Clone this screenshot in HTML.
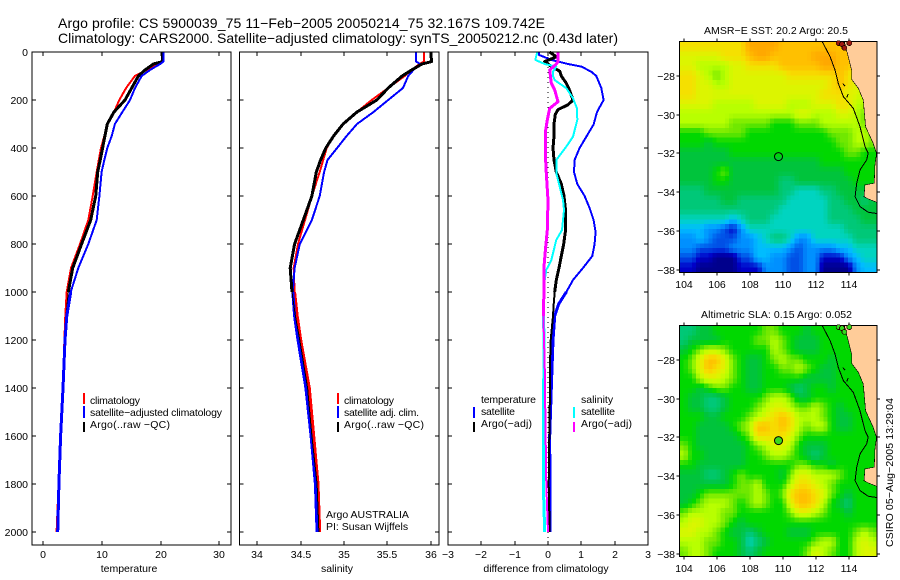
<!DOCTYPE html>
<html lang="en">
<head>
<meta charset="utf-8">
<title>Argo profile chart</title>
<style>
html,body{margin:0;padding:0;background:#fff;width:900px;height:580px;overflow:hidden}
svg{display:block}
text{font-family:"Liberation Sans",sans-serif;font-size:10.5px;fill:#000}
.t{font-size:14px}
</style>
</head>
<body>
<svg id="chart" xmlns="http://www.w3.org/2000/svg" width="900" height="580" viewBox="0 0 900 580" shape-rendering="crispEdges">
<rect x="0" y="0" width="900" height="580" fill="#fff"/>
<text class="t" x="58" y="28" textLength="487">Argo profile: CS 5900039_75 11−Feb−2005 20050214_75 32.167S 109.742E</text>
<text class="t" x="58" y="43" textLength="560">Climatology: CARS2000. Satellite−adjusted climatology: synTS_20050212.nc (0.43d later)</text>

<g id="p1"></g>
<g id="p2"></g>
<g id="p3"></g>
<g id="m1"></g>
<g id="m2"></g>

<text x="129" y="572" text-anchor="middle">temperature</text>
<text x="337" y="572" text-anchor="middle">salinity</text>
<text x="546" y="572" text-anchor="middle">difference from climatology</text>

<g>
<rect x="83" y="393" width="2" height="11" fill="#f00"/>
<rect x="83" y="406" width="2" height="12" fill="#00f"/>
<rect x="83" y="422" width="2" height="10" fill="#000"/>
<text x="90" y="404" textLength="50">climatology</text>
<text x="90" y="416" textLength="132">satellite−adjusted climatology</text>
<text x="90" y="428" textLength="80">Argo(..raw −QC)</text>
</g>
<g>
<rect x="337" y="393" width="2" height="11" fill="#f00"/>
<rect x="337" y="406" width="2" height="12" fill="#00f"/>
<rect x="337" y="422" width="2" height="10" fill="#000"/>
<text x="344" y="404" textLength="50">climatology</text>
<text x="344" y="416" textLength="75">satellite adj. clim.</text>
<text x="344" y="428" textLength="80">Argo(..raw −QC)</text>
<text x="326" y="518">Argo AUSTRALIA</text>
<text x="326" y="530">PI: Susan Wijffels</text>
</g>
<g>
<rect x="473" y="407" width="2" height="11" fill="#00f"/>
<rect x="473" y="422" width="2" height="10" fill="#000"/>
<rect x="573" y="407" width="2" height="11" fill="#0ff"/>
<rect x="573" y="422" width="2" height="10" fill="#f0f"/>
<text x="481" y="403" textLength="55">temperature</text>
<text x="481" y="415" textLength="34">satellite</text>
<text x="481" y="427" textLength="51">Argo(−adj)</text>
<text x="581" y="403">salinity</text>
<text x="581" y="415" textLength="34">satellite</text>
<text x="581" y="427" textLength="51">Argo(−adj)</text>
</g>

<text x="704" y="34" textLength="144">AMSR−E SST: 20.2 Argo: 20.5</text>
<text x="701" y="318" textLength="151">Altimetric SLA: 0.15 Argo: 0.052</text>
<text transform="translate(893,547) rotate(-90)" textLength="149">CSIRO 05−Aug−2005 13:29:04</text>
</svg>

<script>
// ---------- profile data ----------
const depths = [0,40,50,75,100,150,200,250,300,350,400,450,500,600,700,800,900,1000,1100,1200,1400,1600,1800,2000];
const tempClim = [20.2,20.2,19.3,17.6,15.6,14.1,12.95,12.05,10.9,10.4,9.83,9.45,9.09,8.41,7.67,6.25,4.72,3.98,3.75,3.6,3.3,2.9,2.6,2.27];
const tempSat  = [20.45,20.45,19.9,18.18,16.76,15.63,14.77,13.47,12.2,11.65,10.9,10.4,9.94,9.55,9.09,7.67,5.97,4.66,4.0,3.7,3.35,2.95,2.65,2.45];
const tempArgo = [20.34,20.34,18.75,17.33,16.2,15.06,13.92,12.05,10.9,10.5,10.11,9.7,9.26,8.92,8.07,6.53,5.0,4.26,3.85,3.6,3.25,2.85,2.5,2.4];
const salClim = [35.92,35.92,35.87,35.78,35.7,35.51,35.32,35.15,34.99,34.88,34.8,34.76,34.72,34.63,34.55,34.47,34.42,34.43,34.46,34.5,34.6,34.65,34.7,34.72];
const salSat  = [35.83,35.83,35.88,35.8,35.74,35.68,35.51,35.34,35.15,35.03,34.92,34.81,34.77,34.72,34.63,34.49,34.43,34.41,34.43,34.47,34.56,34.62,34.67,34.69];
const salArgo = [36.0,36.01,35.9,35.78,35.67,35.51,35.38,35.15,34.99,34.88,34.79,34.73,34.68,34.63,34.53,34.43,34.38,34.4,34.44,34.49,34.58,34.63,34.69,34.71];

const diffTempSatDepths = [0,12,33,50,61,82,100,150,200,250,302,400,450,500,550,600,650,700,750,800,850,900,950,1000,1050,1100,1200,1400,1600,2000];
const diffTempSat = [-0.27,-0.27,0.1,0.6,1.0,1.3,1.45,1.6,1.67,1.47,1.37,0.95,0.8,0.78,0.88,1.1,1.25,1.37,1.43,1.4,1.33,1.05,0.75,0.55,0.32,0.2,0.15,0.1,0.05,0.06];
const diffTempArgoDepths = [0,20,40,60,80,100,130,160,200,220,240,260,300,350,400,450,500,550,600,650,700,750,800,850,900,950,1000,1050,1100,1200,1300,1400,1600,1800,2000];
const diffTempArgo = [0.05,0.25,-0.1,0.1,0.35,0.4,0.55,0.65,0.75,0.6,0.3,0.22,0.18,0.18,0.15,0.18,0.25,0.4,0.48,0.52,0.53,0.52,0.47,0.4,0.33,0.25,0.2,0.17,0.15,0.08,0.06,0.06,0.04,0.02,0.05];
const diffSalSatDepths = [0,33,50,61,82,100,117,151,193,235,283,353,394,450,506,561,617,658,742,783,867,908,978,1061,1200,1400,1600,1800,2000];
const diffSalSat = [-0.32,-0.38,-0.1,0.25,0.15,0.15,0.2,0.55,0.75,0.87,0.88,0.75,0.55,0.25,0.25,0.35,0.45,0.48,0.42,0.25,0.1,-0.05,-0.13,-0.14,-0.12,-0.13,-0.13,-0.14,-0.1];
const diffSalArgoDepths = [0,40,50,75,130,158,207,235,283,325,422,506,617,742,811,894,992,1100,1300,1500,1800,2000];
const diffSalArgo = [0.3,0.3,0.25,0.05,0.1,0.2,0.3,0.05,-0.02,-0.07,-0.08,-0.05,0,-0.02,-0.07,-0.12,-0.12,-0.14,-0.1,-0.08,-0.05,0];

const depthTicks = [0,200,400,600,800,1000,1200,1400,1600,1800,2000];
const tempTicks = [0,10,20,30];
const salTicks = [34,34.5,35,35.5,36];
const salTickLabels = ['34','34.5','35','35.5','36'];
const diffTicks = [-3,-2,-1,0,1,2,3];
const diffTickLabels = ['−3','−2','−1','0','1','2','3'];

// ---------- map data ----------
const lonTicks = [104,106,108,110,112,114];
const latTicks = [-28,-30,-32,-34,-36,-38];
const latTickLabels = ['−28','−30','−32','−34','−36','−38'];
const gridLon0 = 103.73;
const gridLat0 = -26.23;
const gridStepLon = 0.5;
const gridStepLat = 0.496;
const paletteRgb = [[0,0,140],[0,0,200],[0,80,230],[0,144,255],[0,188,255],[0,212,192],[0,200,120],[0,196,60],[0,216,0],[112,232,0],[184,255,0],[220,245,0],[245,224,0],[255,192,0],[255,168,0],[224,64,0]];

const sstGrid = [
[12,12,12,12,12,12,12,12,14,14,14,14,13,13,13,13,13,13,13,13,13,13,13,13],
[11,11,11,11,11,12,12,12,13,14,14,13,13,13,13,13,14,14,14,13,13,13,12,12],
[11,11,10,10,10,10,11,11,12,12,12,12,13,13,13,13,13,14,14,13,13,12,12,12],
[12,12,11,10,9,10,11,11,11,11,11,11,11,12,12,12,12,12,12,13,12,11,11,11],
[12,12,11,11,10,10,11,11,11,11,11,11,11,11,11,11,11,11,12,13,12,11,11,11],
[12,12,11,11,11,11,11,11,11,11,11,11,11,11,11,11,11,12,12,12,11,11,10,10],
[11,11,11,11,10,10,10,10,10,11,11,11,11,10,10,10,11,11,11,12,12,10,10,10],
[10,10,10,10,10,10,10,10,10,10,10,10,10,10,11,11,10,10,10,11,11,10,9,9],
[10,10,10,10,10,10,9,9,9,9,9,8,8,8,9,9,9,10,10,10,10,10,9,9],
[8,8,8,9,9,9,9,9,8,8,8,8,8,8,8,8,8,8,9,9,9,10,10,9],
[8,8,8,7,8,8,8,8,8,8,8,8,8,8,8,8,8,8,8,9,9,10,10,9],
[7,7,7,7,7,7,8,8,8,8,8,8,8,8,8,8,8,8,8,8,9,9,8,8],
[7,7,7,7,7,7,7,7,7,7,7,7,7,7,7,7,7,8,8,8,8,8,8,8],
[7,7,7,7,8,9,7,7,7,7,7,7,7,7,7,7,7,7,7,7,8,8,8,8],
[7,7,7,7,8,8,7,7,7,7,7,7,6,6,7,7,7,7,7,7,7,8,8,8],
[6,6,6,7,7,7,7,7,7,7,7,7,6,6,5,5,5,6,6,7,7,7,7,7],
[6,6,6,6,6,7,7,6,6,6,6,6,6,5,5,5,5,5,6,6,7,7,6,7],
[6,6,6,6,6,6,6,6,6,6,6,6,5,5,5,5,5,5,6,6,6,7,7,7],
[5,5,5,5,5,5,4,5,6,6,6,5,5,5,5,5,5,5,6,6,6,6,7,7],
[4,4,4,3,3,2,1,3,5,5,5,5,5,5,5,5,5,5,5,5,6,6,6,6],
[3,3,4,3,2,2,2,3,3,4,5,6,6,5,3,3,5,5,5,5,5,6,6,6],
[3,3,2,2,2,2,3,3,3,4,4,4,4,3,2,3,3,3,3,4,4,5,5,5],
[2,2,1,1,0,0,0,2,2,4,4,3,3,2,2,3,3,1,1,1,3,4,5,5],
[1,1,0,0,0,0,0,1,1,1,3,3,3,2,2,3,3,0,0,0,0,3,4,4]
];
const slaGrid = [
[6,6,7,7,8,8,8,8,8,8,9,9,8,8,8,7,8,8,8,8,8,8,9,9],
[6,7,7,7,7,8,8,8,8,9,9,10,9,8,7,7,7,8,8,8,8,8,8,8],
[7,8,9,10,10,9,8,8,8,8,8,10,9,8,7,7,7,8,8,8,8,8,8,8],
[8,9,11,13,13,11,9,8,7,7,8,9,10,9,9,8,8,8,7,8,8,8,8,8],
[8,9,11,13,12,11,9,8,7,7,8,8,9,9,10,9,8,7,7,8,8,8,8,8],
[8,8,10,11,11,10,9,8,7,7,8,8,8,8,8,7,7,7,7,8,8,8,8,8],
[8,8,7,8,9,9,8,8,7,7,8,8,8,7,6,7,8,8,7,8,8,8,8,8],
[8,7,7,6,6,7,8,8,8,8,9,10,10,9,7,7,8,8,8,8,8,8,8,8],
[8,7,7,6,6,7,8,8,8,9,10,11,11,10,9,9,10,9,8,7,8,8,8,8],
[8,8,8,7,7,8,8,8,9,10,11,12,13,12,10,10,10,9,8,7,7,8,8,8],
[8,8,7,7,7,7,8,9,10,13,13,12,13,12,10,9,10,10,8,7,7,8,8,8],
[8,8,7,7,7,7,7,8,9,12,12,12,12,11,9,8,8,8,8,8,8,8,8,8],
[9,8,7,7,7,7,7,7,8,9,10,11,11,10,8,7,7,7,8,8,8,8,8,8],
[10,8,8,7,7,7,7,7,8,8,9,10,10,9,8,7,6,7,8,8,8,8,8,8],
[8,8,7,7,7,7,7,7,8,8,8,8,8,8,9,9,8,8,7,8,8,8,8,8],
[7,7,7,6,6,7,8,9,8,8,8,8,7,9,11,11,10,10,10,9,8,8,8,8],
[7,7,7,7,7,7,8,9,9,10,8,8,8,10,12,12,11,10,9,8,8,8,8,8],
[7,7,8,9,9,9,9,9,9,10,9,8,9,12,13,13,12,11,9,8,7,8,8,8],
[7,8,9,10,10,10,9,8,9,10,9,8,8,11,13,13,12,10,8,7,6,8,8,8],
[9,10,10,10,10,9,9,8,8,8,8,8,8,9,11,11,10,9,8,8,7,8,8,8],
[10,11,11,10,10,9,8,7,8,8,8,8,8,8,8,8,8,8,8,8,8,8,8,8],
[11,11,10,10,9,8,7,7,6,7,8,8,8,7,7,7,8,8,8,8,8,9,10,9],
[10,10,10,9,9,8,8,7,5,6,7,8,8,8,8,8,9,10,10,8,8,10,11,10],
[9,10,10,9,8,8,8,7,6,7,8,8,8,8,8,9,11,10,9,8,8,10,11,11]
];
const coastLon = [113.75,114.19,114.19,114.6,114.9,115.04,115.5,115.7,115.6,115.57,115.0,114.94,115.2,115.75];
const coastLat = [-26.23,-27.69,-28.17,-28.64,-29.24,-30.62,-31.48,-32.0,-32.68,-33.54,-33.63,-34.23,-34.35,-34.54];
const isoLon = [112.41,112.88,113.18,113.38,113.69,114.29,114.7,115.0,115.2,115.1,114.7,114.5,114.4,114.7,115.2,115.73];
const isoLat = [-26.23,-27.0,-27.69,-28.38,-29.07,-29.67,-30.62,-31.65,-31.99,-32.34,-32.86,-33.54,-34.23,-34.75,-35.04,-35.11];
const islandLonA = [113.65,113.99];
const islandLatA = [-28.38,-28.93];
const islandLonB = [113.79,113.89];
const islandLatB = [-28.52,-29.1];
const reefLon = [113.4,113.6,113.75,114.05];
const reefLat = [-26.3,-26.35,-26.55,-26.3];
const floatLon = 109.742;
const floatLat = -32.167;

// ---------- axis functions ----------
const depthY = d => 52 + d * 0.24;
const tempX = t => 43.3 + t * 5.87;
const salX = s => 257.3 + (s - 34) * 86.7;
const diffX = v => 548 + v * 33.3;
const lonX = lon => 684 + (lon - 104) * 16.45;
const latY = (lat, top) => top + 34.3 + (-28 - lat) * 19.35;

const NS = 'http://www.w3.org/2000/svg';
function el(tag, parent) {
  const e = document.createElementNS(NS, tag);
  parent.appendChild(e);
  return e;
}

function drawBox(g, x0, y0, x1, y1) {
  const r = el('rect', g);
  
  
  r.setAttribute('x', x0);
  r.setAttribute('y', y0);
  r.setAttribute('width', x1 - x0);
  r.setAttribute('height', y1 - y0);
  r.setAttribute('fill', 'none');
  r.setAttribute('stroke', '#000');
  r.setAttribute('stroke-width', '1');
}

function tickLine(g, x1, y1, x2, y2) {
  const l = el('line', g);
  
  
  l.setAttribute('x1', x1);
  l.setAttribute('y1', y1);
  l.setAttribute('x2', x2);
  l.setAttribute('y2', y2);
  l.setAttribute('stroke', '#000');
  l.setAttribute('stroke-width', '1');
}

function label(g, x, y, s, anchor) {
  const t = el('text', g);
  
  
  t.setAttribute('x', x);
  t.setAttribute('y', y);
  t.setAttribute('text-anchor', anchor);
  t.textContent = s;
}

function series(g, name, xs, ds, xf, color, w) {
  const p = el('polyline', g);
  
  
  p.setAttribute('points', xs.map((v, i) => xf(v).toFixed(1) + ',' + depthY(ds[i]).toFixed(1)).join(' '));
  p.setAttribute('fill', 'none');
  p.setAttribute('stroke', color);
  p.setAttribute('stroke-width', w);
  p.setAttribute('stroke-linejoin', 'round');
}

// upper and lower parts of a profile can have different line weights
function profile(g, name, xs, ds, xf, color, wTop, wDeep) {
  const split = ds.findIndex(d => d >= 1000);
  series(g, name + '-upper', xs.slice(0, split + 1), ds.slice(0, split + 1), xf, color, wTop);
  series(g, name + '-deep', xs.slice(split), ds.slice(split), xf, color, wDeep);
}

function panelFrame(g, x0, x1, ticks, labels, xf, showDepth) {
  const y0 = 52, y1 = 545;
  ticks.forEach((t, i) => {
    const x = Math.round(xf(t));
    if (x > x0 && x < x1) {
      tickLine(g, x, y0, x, y0 + 4);
      tickLine(g, x, y1, x, y1 - 4);
    }
    label(g, x, 558, labels[i], 'middle');
  });
  depthTicks.forEach(d => {
    const y = Math.round(depthY(d));
    tickLine(g, x0, y, x0 + 4, y);
    tickLine(g, x1, y, x1 - 4, y);
    if (showDepth) label(g, 28, y + 4, String(d), 'end');
  });
  drawBox(g, x0, y0, x1, y1);
}

// temperature
const p1 = document.getElementById('p1');
profile(p1, 'temperature-climatology-line', tempClim, depths, tempX, '#f00', 2, 2);
profile(p1, 'temperature-argo-line', tempArgo, depths, tempX, '#000', 3, 1);
profile(p1, 'temperature-satellite-line', tempSat, depths, tempX, '#00f', 2, 3);
panelFrame(p1, 32, 231, tempTicks, tempTicks.map(String), tempX, true);

// salinity
const p2 = document.getElementById('p2');
profile(p2, 'salinity-climatology-line', salClim, depths, salX, '#f00', 2, 3);
profile(p2, 'salinity-satellite-line', salSat, depths, salX, '#00f', 2, 3);
profile(p2, 'salinity-argo-line', salArgo, depths, salX, '#000', 3, 1);
panelFrame(p2, 239.5, 439, salTicks, salTickLabels, salX, false);

// differences
const p3 = document.getElementById('p3');
const zero = el('line', p3);


zero.setAttribute('x1', diffX(0));
zero.setAttribute('x2', diffX(0));
zero.setAttribute('y1', 52);
zero.setAttribute('y2', 545);
zero.setAttribute('stroke', '#000');
zero.setAttribute('stroke-width', '1');
zero.setAttribute('stroke-dasharray', '1 4');
profile(p3, 'diff-temperature-satellite-line', diffTempSat, diffTempSatDepths, diffX, '#00f', 2, 3);
profile(p3, 'diff-temperature-argo-line', diffTempArgo, diffTempArgoDepths, diffX, '#000', 3, 2);
profile(p3, 'diff-salinity-satellite-line', diffSalSat, diffSalSatDepths, diffX, '#0ff', 2, 3);
profile(p3, 'diff-salinity-argo-line', diffSalArgo, diffSalArgoDepths, diffX, '#f0f', 3, 2);
panelFrame(p3, 448, 648, diffTicks, diffTickLabels, diffX, false);

// Colour for a (possibly fractional) palette index.
function colorFor(v) {
  const a = Math.max(0, Math.min(paletteRgb.length - 1, Math.floor(v)));
  const b = Math.min(paletteRgb.length - 1, a + 1);
  const f = Math.max(0, Math.min(1, v - a));
  const c = [0, 1, 2].map(k => Math.round(paletteRgb[a][k] + (paletteRgb[b][k] - paletteRgb[a][k]) * f));
  return 'rgb(' + c.join(',') + ')';
}

// Smooth display of a grid value: each source cell is shown as four sub-pixels.
function gridValue(grid, r, c) {
  const last = grid.length - 1;
  const rr = Math.max(0, Math.min(last, r));
  const cc = Math.max(0, Math.min(grid[0].length - 1, c));
  const r0 = Math.floor(rr), c0 = Math.floor(cc);
  const r1 = Math.min(last, r0 + 1), c1 = Math.min(grid[0].length - 1, c0 + 1);
  const fr = rr - r0, fc = cc - c0;
  return (grid[r0][c0] * (1 - fc) + grid[r0][c1] * fc) * (1 - fr) + (grid[r1][c0] * (1 - fc) + grid[r1][c1] * fc) * fr;
}

// maps
function drawMap(g, grid, top, bottom, clipId, labelY, floatFill) {
  const left = 679.5, right = 877;
  const clip = el('clipPath', g);
  clip.setAttribute('id', clipId);
  const cr = el('rect', clip);
  cr.setAttribute('x', left);
  cr.setAttribute('y', top);
  cr.setAttribute('width', right - left);
  cr.setAttribute('height', bottom - top);
  const inner = el('g', g);
  inner.setAttribute('clip-path', 'url(#' + clipId + ')');
  for (let r = 0; r < grid.length * 2; r++) {
    for (let c = 0; c < grid[0].length * 2; c++) {
      const v = gridValue(grid, (r + 0.5) / 2 - 0.5, (c + 0.5) / 2 - 0.5);
      const rect = el('rect', inner);
      
      
      const xa = lonX(gridLon0 + c * gridStepLon / 2), xb = lonX(gridLon0 + (c + 1) * gridStepLon / 2);
      const ya = latY(gridLat0 - r * gridStepLat / 2, top), yb = latY(gridLat0 - (r + 1) * gridStepLat / 2, top);
      rect.setAttribute('x', xa.toFixed(1));
      rect.setAttribute('y', ya.toFixed(1));
      rect.setAttribute('width', (xb - xa + 0.5).toFixed(1));
      rect.setAttribute('height', (yb - ya + 0.5).toFixed(1));
      rect.setAttribute('fill', colorFor(v));
    }
  }
  const pts = coastLon.map((lon, i) => lonX(lon).toFixed(1) + ',' + latY(coastLat[i], top).toFixed(1));
  pts.unshift(lonX(116).toFixed(1) + ',' + latY(gridLat0, top).toFixed(1));
  pts.push(lonX(116).toFixed(1) + ',' + latY(coastLat[coastLat.length - 1], top).toFixed(1));
  const land = el('polygon', inner);
  
  
  land.setAttribute('points', pts.join(' '));
  land.setAttribute('fill', '#ffcc99');
  const coastLine = el('polyline', inner);
  
  
  coastLine.setAttribute('points', coastLon.map((lon, i) => lonX(lon).toFixed(1) + ',' + latY(coastLat[i], top).toFixed(1)).join(' '));
  coastLine.setAttribute('fill', 'none');
  coastLine.setAttribute('stroke', '#000');
  coastLine.setAttribute('stroke-width', '0.6');
  const iso = el('polyline', inner);
  
  
  iso.setAttribute('points', isoLon.map((lon, i) => lonX(lon).toFixed(1) + ',' + latY(isoLat[i], top).toFixed(1)).join(' '));
  iso.setAttribute('fill', 'none');
  iso.setAttribute('stroke', '#000');
  iso.setAttribute('stroke-width', '1');
  islandLonA.forEach((lon, i) => {
    const seg = el('line', inner);
    
    
    seg.setAttribute('x1', lonX(lon).toFixed(1));
    seg.setAttribute('y1', latY(islandLatA[i], top).toFixed(1));
    seg.setAttribute('x2', lonX(islandLonB[i]).toFixed(1));
    seg.setAttribute('y2', latY(islandLatB[i], top).toFixed(1));
    seg.setAttribute('stroke', '#000');
    seg.setAttribute('stroke-width', '1');
  });
  const mark = el('circle', g);
  
  
  mark.setAttribute('cx', lonX(floatLon).toFixed(1));
  mark.setAttribute('cy', latY(floatLat, top).toFixed(1));
  mark.setAttribute('r', 4);
  mark.setAttribute('fill', floatFill);
  mark.setAttribute('stroke', '#000');
  mark.setAttribute('stroke-width', '1');
  mark.setAttribute('shape-rendering', 'auto');
  lonTicks.forEach(lon => {
    const x = Math.round(lonX(lon));
    tickLine(g, x, top, x, top - 3);
    tickLine(g, x, bottom, x, bottom + 3);
    label(g, x, labelY, String(lon), 'middle');
  });
  latTicks.forEach((lat, i) => {
    const y = Math.round(latY(lat, top));
    tickLine(g, left, y, left - 3, y);
    tickLine(g, right, y, right + 3, y);
    label(g, 675, y + 4, latTickLabels[i], 'end');
  });
  drawBox(g, left, top, right, bottom);
}
drawMap(document.getElementById('m1'), sstGrid, 41.7, 272.3, 'clip-sst', 288, 'none');
drawMap(document.getElementById('m2'), slaGrid, 325.7, 556.7, 'clip-sla', 572, '#3cd81c');

// reef patches near the top of both maps
function drawReefs(g, top, fill) {
  reefLon.forEach((lon, i) => {
    const c = el('circle', g);
    
    
    c.setAttribute('cx', lonX(lon).toFixed(1));
    c.setAttribute('cy', latY(reefLat[i], top).toFixed(1));
    c.setAttribute('r', 2.5);
    c.setAttribute('fill', fill);
    c.setAttribute('stroke', '#200');
    c.setAttribute('stroke-width', '0.7');
  });
}
drawReefs(document.getElementById('m1'), 41.7, '#a01810');
drawReefs(document.getElementById('m2'), 325.7, '#30d820');
</script>
</body>
</html>
